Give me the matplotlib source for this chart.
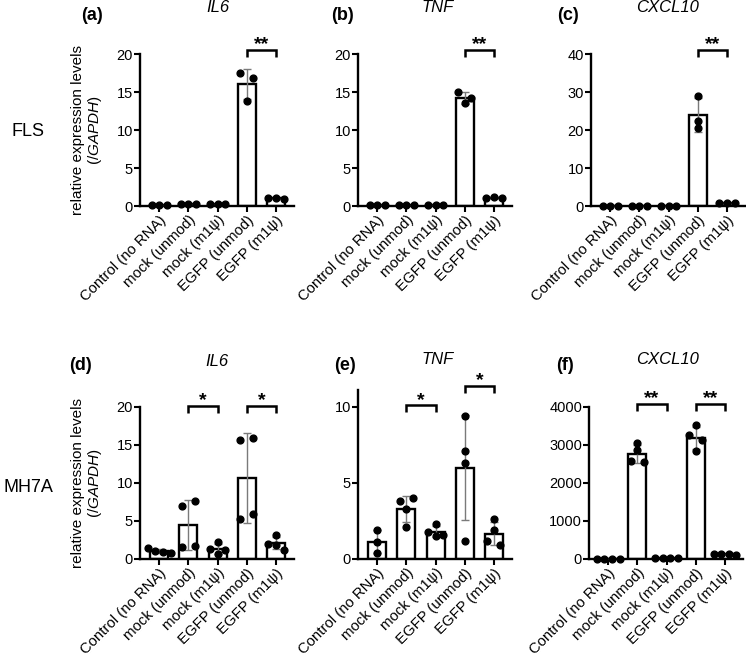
import numpy as np
import matplotlib
matplotlib.use("Agg")
import matplotlib.pyplot as plt

plt.rcParams['font.family'] = ['Liberation Sans', 'DejaVu Sans']
plt.rcParams['mathtext.fontset'] = 'custom'
plt.rcParams['mathtext.it'] = 'Liberation Sans:italic'
plt.rcParams['mathtext.rm'] = 'Liberation Sans'

groups = ['Control (no RNA)', 'mock (unmod)', 'mock (m1ψ)', 'EGFP (unmod)', 'EGFP (m1ψ)']

# replicate values, one list per group
fls_il6 = [[0.1, 0.1, 0.1], [0.2, 0.2, 0.2], [0.2, 0.2, 0.2], [17.5, 16.8, 13.8], [1.0, 1.1, 0.9]]
fls_tnf = [[0.1, 0.1, 0.1], [0.1, 0.1, 0.1], [0.1, 0.1, 0.1], [15.0, 13.5, 14.2], [1.0, 1.2, 1.1]]
fls_cxcl10 = [[0.1, 0.1, 0.1], [0.1, 0.1, 0.1], [0.1, 0.1, 0.1], [28.9, 22.4, 20.6], [0.8, 0.9, 0.8]]
mh7a_il6 = [[1.5, 1.0, 0.9, 0.8], [7.0, 7.6, 1.6, 1.7], [2.2, 1.3, 0.6, 1.2],
            [15.6, 15.9, 5.2, 5.9], [3.1, 2.0, 1.9, 1.2]]
mh7a_tnf = [[1.9, 1.1, 0.4], [3.8, 4.0, 3.3, 2.1], [2.3, 1.8, 1.5, 1.6],
            [9.4, 7.1, 6.3, 1.2], [2.6, 1.9, 1.2, 0.9]]
mh7a_cxcl10 = [[10, 10, 10, 10], [3050, 2870, 2580, 2560], [20, 20, 20, 20],
               [3530, 3270, 3130, 2840], [130, 120, 125, 115]]

W, H = 746, 657


def fx(px):
    return px / W


def fy(py):
    return 1 - py / H


def swarm(vals, tol, d=0.26):
    # rough Prism-like layout: overlapping points share a row, spread sideways
    vals = np.asarray(vals, float)
    order = np.argsort(-vals, kind='stable')
    rows = []
    for i in order:
        if rows and vals[rows[-1][0]] - vals[i] <= tol:
            rows[-1].append(i)
        else:
            rows.append([i])
    off = np.zeros(len(vals))
    for r in rows:
        r = sorted(r)
        n = len(r)
        if n == 2:
            pos = [-0.85 * d, 0.85 * d]
        else:
            pos = np.linspace(-(n - 1) / 2 * d, (n - 1) / 2 * d, n)
        for k, i in enumerate(r):
            off[i] = pos[k]
    return off


def bracket(ax, i, j, y, label, ymax):
    h = 0.045 * ymax
    ax.plot([i, i, j, j], [y - h, y, y, y - h], color='black', lw=1.8,
            clip_on=False, solid_capstyle='butt', solid_joinstyle='miter')
    ax.text((i + j) / 2, y + 0.035 * ymax, label, ha='center', va='center',
            fontsize=14, fontweight='bold')


panels = [
    (fls_il6, 140, 206, 20, 20, 5, [(3, 4, 20.5, '**')]),
    (fls_tnf, 358, 206, 20, 20, 5, [(3, 4, 20.5, '**')]),
    (fls_cxcl10, 591, 206, 40, 40, 10, [(3, 4, 41, '**')]),
    (mh7a_il6, 140, 559, 20, 20, 5, [(1, 2, 20.1, '*'), (3, 4, 20.1, '*')]),
    (mh7a_tnf, 358, 559, 11.1, 10, 5, [(1, 2, 10.1, '*'), (3, 4, 11.4, '*')]),
    (mh7a_cxcl10, 589, 559, 4000, 4000, 1000, [(1, 2, 4085, '**'), (3, 4, 4085, '**')]),
]

fig = plt.figure(figsize=(W / 100, H / 100), dpi=100)

axes = []
for data, left, bottom, ymax, ytop, ystep, sigs in panels:
    height = 152 * ymax / ytop
    ax = fig.add_axes([fx(left), fy(bottom), 154 / W, height / H])
    x = np.arange(len(groups))
    means = [np.mean(v) for v in data]
    sds = [np.std(v, ddof=1) for v in data]
    ax.bar(x, means, width=0.62, color='white', edgecolor='black', lw=1.7, zorder=2)
    ax.errorbar(x, means, yerr=sds, fmt='none', ecolor='#7a7a7a', elinewidth=1,
                capsize=3, capthick=1, zorder=3)
    tol = 0.042 * ymax
    for xi, v in zip(x, data):
        ax.plot(xi + swarm(v, tol), v, 'o', color='black', ms=4.9, zorder=4, clip_on=False)
    for i, j, y, lab in sigs:
        bracket(ax, i, j, y, lab, ytop)
    ax.set_xlim(-0.66, 4.62)
    ax.set_ylim(0, ymax)
    ax.set_yticks(np.arange(0, ytop + ystep / 2, ystep))
    ax.set_xticks(x)
    ax.set_xticklabels(groups, rotation=45, ha='right', va='top', rotation_mode='anchor',
                       fontsize=10.7)
    for s in ['top', 'right']:
        ax.spines[s].set_visible(False)
    for s in ['left', 'bottom']:
        ax.spines[s].set_linewidth(1.7)
    ax.tick_params(width=1.5, length=4, pad=1)
    ax.tick_params(axis='y', labelsize=10.5)
    axes.append(ax)

ylab = 'relative expression levels\n(/$\\mathit{GAPDH}$)'
for ax in (axes[0], axes[3]):
    ax.set_ylabel(ylab, fontsize=11, linespacing=1.05)
    ax.yaxis.set_label_coords(-0.235, 0.5)

tags = [('(a)', 92, 15, 'IL6', 218, 8), ('(b)', 342, 15, 'TNF', 438, 8),
        ('(c)', 568, 15, 'CXCL10', 668, 8), ('(d)', 81, 366, 'IL6', 217, 362),
        ('(e)', 345, 366, 'TNF', 438, 360), ('(f)', 565, 366, 'CXCL10', 668, 360)]
for tag, tx, ty, gene, gx, gy in tags:
    fig.text(fx(tx), fy(ty), tag, ha='center', va='center', fontsize=13, fontweight='bold')
    fig.text(fx(gx), fy(gy), gene, ha='center', va='center', fontsize=12, style='italic')

fig.text(fx(28), fy(131), 'FLS', ha='center', va='center', fontsize=13)
fig.text(fx(28), fy(487), 'MH7A', ha='center', va='center', fontsize=13)

fig.savefig('out.png', dpi=100)
